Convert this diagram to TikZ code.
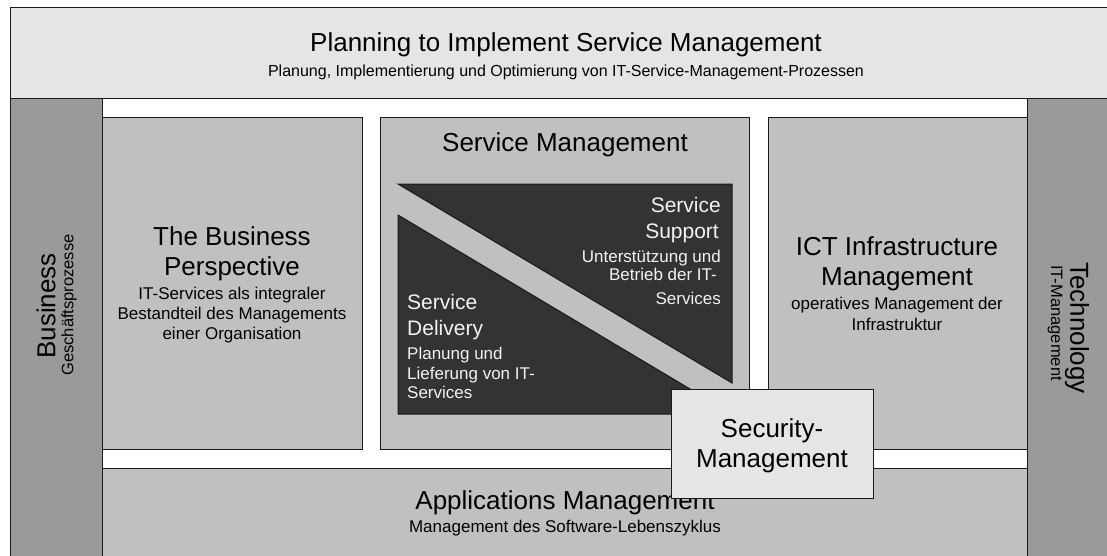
\documentclass[tikz,border=0pt]{standalone}
\usepackage{fontspec}
\setmainfont{Liberation Sans}
\definecolor{bannerfill}{HTML}{E5E5E5}
\definecolor{sidefill}{HTML}{9A9A9A}
\definecolor{boxfill}{HTML}{C0C0C0}
\definecolor{darkfill}{HTML}{333333}
\definecolor{edge}{HTML}{1A1A1A}
\definecolor{lighttext}{HTML}{F2F2F2}
\tikzset{
  panel/.style={draw=edge, line width=1pt},
  big/.style={anchor=base, inner sep=0pt, font=\fontsize{26}{30}\selectfont},
  mid/.style={anchor=base, inner sep=0pt, font=\fontsize{21}{25}\selectfont},
  small/.style={anchor=base, inner sep=0pt, font=\fontsize{17}{20}\selectfont},
  sidebig/.style={inner sep=0pt, font=\fontsize{26}{30}\selectfont},
  sidesmall/.style={inner sep=0pt, font=\fontsize{16.5}{19}\selectfont},
  lt/.style={text=lighttext},
}
\begin{document}
\begin{tikzpicture}[x=1pt,y=-1pt]
\useasboundingbox (0,0) rectangle (1107,556);
\clip (0,0) rectangle (1107,556);
% banner and side columns
\filldraw[panel, fill=bannerfill] (10,8) rectangle (1120,99);
\filldraw[panel, fill=sidefill] (10,99) rectangle (102,570);
\filldraw[panel, fill=sidefill] (1027,99) rectangle (1120,570);
% main boxes
\filldraw[panel, fill=boxfill] (102,118) rectangle (362,449);
\filldraw[panel, fill=boxfill] (380,118) rectangle (749,449);
\filldraw[panel, fill=boxfill] (768,118) rectangle (1027,449);
\filldraw[panel, fill=boxfill] (102,468) rectangle (1027,570);
% dark triangles
\filldraw[panel, fill=darkfill] (398,184) -- (732,184) -- (732,383) -- cycle;
\filldraw[panel, fill=darkfill] (398,215) -- (732,414) -- (398,414) -- cycle;

% banner text
\node[big] (pt) at (566,52) {Planning to Implement Service Management};
\node[small, font=\fontsize{16}{19}\selectfont] (pts) at (566,77) {Planung, Implementierung und Optimierung von IT-Service-Management-Prozessen};

% side columns
\node[sidebig, rotate=90] (bus) at (46,306) {Business};
\node[sidesmall, rotate=90] (buss) at (69,305) {Geschäftsprozesse};
\node[sidebig, rotate=-90] (tec) at (1077,328) {Technology};
\node[sidesmall, rotate=-90] (tecs) at (1055,323) {IT-Management};

% business perspective
\node[big] (bp1) at (232,245) {The Business};
\node[big] (bp2) at (232,275) {Perspective};
\node[small] (bp3) at (232,299) {IT-Services als integraler};
\node[small] (bp4) at (232,319) {Bestandteil des Managements};
\node[small] (bp5) at (232,339) {einer Organisation};

% service management
\node[big] (sm) at (565,152) {Service Management};
\node[mid, lt, anchor=base east] (ss1) at (721,212) {Service};
\node[mid, lt, anchor=base east] (ss2) at (719,238) {Support};
\node[small, lt, anchor=base east] (ss3) at (721,262) {Unterstützung und};
\node[small, lt, anchor=base east] (ss4) at (717,280) {Betrieb der IT-};
\node[small, lt, anchor=base east] (ss5) at (721,304) {Services};
\node[mid, lt, anchor=base west] (sd1) at (407,309) {Service};
\node[mid, lt, anchor=base west] (sd2) at (407,335) {Delivery};
\node[small, lt, anchor=base west] (sd3) at (407,359) {Planung und};
\node[small, lt, anchor=base west] (sd4) at (407,379) {Lieferung von IT-};
\node[small, lt, anchor=base west] (sd5) at (407,398) {Services};

% ICT
\node[big] (ict1) at (897,255) {ICT Infrastructure};
\node[big] (ict2) at (897,285) {Management};
\node[small] (ict3) at (897,309) {operatives Management der};
\node[small] (ict4) at (897,330) {Infrastruktur};

% applications
\node[big] (ap1) at (565,509) {Applications Management};
\node[small] (ap2) at (565,532) {Management des Software-Lebenszyklus};

% security
\node[panel, fill=bannerfill, minimum width=202pt, minimum height=109pt, anchor=north west, inner sep=0pt] (sec) at (671,389) {};
\node[big] (sec1) at (772,437) {Security-};
\node[big] (sec2) at (772,467) {Management};
\end{tikzpicture}
\end{document}
